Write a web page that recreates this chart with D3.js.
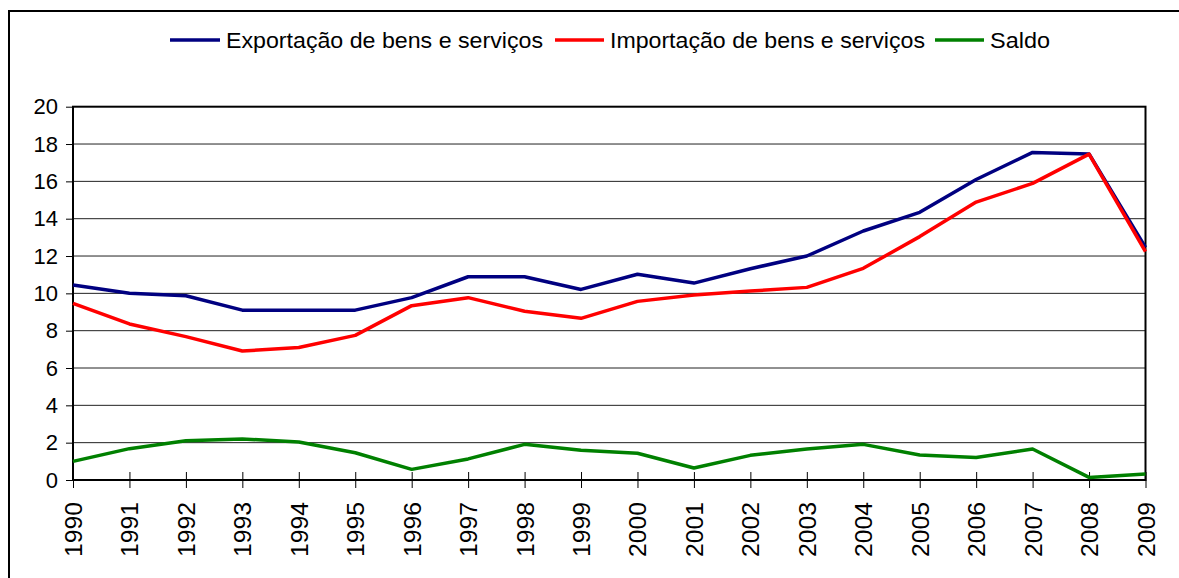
<!DOCTYPE html>
<html>
<head>
<meta charset="utf-8">
<script src="https://cdn.jsdelivr.net/npm/d3@7"></script>
<style>
html,body{margin:0;padding:0;background:#fff;overflow:hidden;}
svg{display:block;}
text{font-family:"Liberation Sans",Arial,sans-serif;fill:#000;}
</style>
</head>
<body>
<svg id="chart" width="1179" height="578"></svg>
<script>
const years = [1990,1991,1992,1993,1994,1995,1996,1997,1998,1999,2000,2001,2002,2003,2004,2005,2006,2007,2008,2009];
const exportacao = [10.45,10.0,9.87,9.1,9.1,9.1,9.77,10.89,10.89,10.21,11.02,10.55,11.32,12.0,13.34,14.34,16.1,17.55,17.47,12.46];
const importacao = [9.46,8.36,7.68,6.91,7.1,7.75,9.34,9.77,9.04,8.66,9.57,9.91,10.12,10.32,11.34,13.04,14.89,15.89,17.46,12.23];
const saldo = [1.0,1.68,2.1,2.2,2.04,1.46,0.57,1.13,1.91,1.59,1.43,0.64,1.32,1.66,1.91,1.34,1.21,1.66,0.14,0.32];
const yTicks = [0,2,4,6,8,10,12,14,16,18,20];
const seriesNames = ["Exportação de bens e serviços","Importação de bens e serviços","Saldo"];
const seriesColors = ["#000080","#ff0000","#008000"];

(function(){
const svg = d3.select("#chart");
const pLeft = 73, pRight = 1145.5, pTop = 106.7, pBottom = 480;

// outer frame
svg.append("rect").attr("x",9).attr("y",11).attr("width",1200).attr("height",600)
  .attr("fill","#fff").attr("stroke","#000").attr("stroke-width",2);

const x = d3.scaleLinear().domain([years[0], years[years.length-1]]).range([pLeft, pRight]);
const y = d3.scaleLinear().domain([0,20]).range([pBottom, pTop]);

// gridlines
svg.append("g").selectAll("line").data(yTicks.filter(d=>d>0 && d<20)).join("line")
  .attr("x1",pLeft).attr("x2",pRight).attr("y1",d=>y(d)).attr("y2",d=>y(d))
  .attr("stroke","#222").attr("stroke-width",1);

// plot frame
svg.append("rect").attr("x",pLeft).attr("y",pTop).attr("width",pRight-pLeft).attr("height",pBottom-pTop)
  .attr("fill","none").attr("stroke","#000").attr("stroke-width",2);

// y axis
const yAxis = d3.axisLeft(y).tickValues(yTicks).tickSize(7).tickPadding(8).tickFormat(d3.format("d"));
const gy = svg.append("g").attr("transform",`translate(${pLeft},0)`).call(yAxis);
gy.select(".domain").remove();
gy.selectAll("line").attr("stroke","#000").attr("stroke-width",1);
gy.selectAll("text").style("font-family","'Liberation Sans',Arial,sans-serif").style("font-size","22px").attr("fill","#000");

// x axis
const xAxis = d3.axisBottom(x).tickValues(years).tickSize(0).tickFormat(d3.format("d"));
const gx = svg.append("g").attr("transform",`translate(0,${pBottom})`).call(xAxis);
gx.select(".domain").remove();
gx.selectAll(".tick").append("line").attr("y1",-8).attr("y2",8).attr("stroke","#000").attr("stroke-width",1);
gx.selectAll("text")
  .style("font-family","'Liberation Sans',Arial,sans-serif").style("font-size","23px").attr("fill","#000")
  .attr("text-anchor","end").attr("dy",null).attr("y",0)
  .attr("transform","translate(8.5,22) rotate(-90)")
  .attr("textLength",55).attr("lengthAdjust","spacingAndGlyphs");

// lines
const line = d3.line().x((d,i)=>x(years[i])).y(d=>y(d));
const allSeries = [exportacao, importacao, saldo];
svg.append("g").selectAll("path").data(allSeries).join("path")
  .attr("d",line).attr("fill","none")
  .attr("stroke",(d,i)=>seriesColors[i]).attr("stroke-width",3.5)
  .attr("stroke-linejoin","round");

// legend
const legendItems = [
  {lx1:170, lx2:220, tx:226, tw:317},
  {lx1:555, lx2:604, tx:610, tw:315},
  {lx1:935, lx2:984, tx:990, tw:60}
];
const lg = svg.append("g");
legendItems.forEach((it,i)=>{
  lg.append("line").attr("x1",it.lx1).attr("x2",it.lx2).attr("y1",40).attr("y2",40)
    .attr("stroke",seriesColors[i]).attr("stroke-width",3.5);
  lg.append("text").attr("x",it.tx).attr("y",48).text(seriesNames[i])
    .style("font-size","22px").attr("textLength",it.tw).attr("lengthAdjust","spacingAndGlyphs");
});
})();
</script>
</body>
</html>
